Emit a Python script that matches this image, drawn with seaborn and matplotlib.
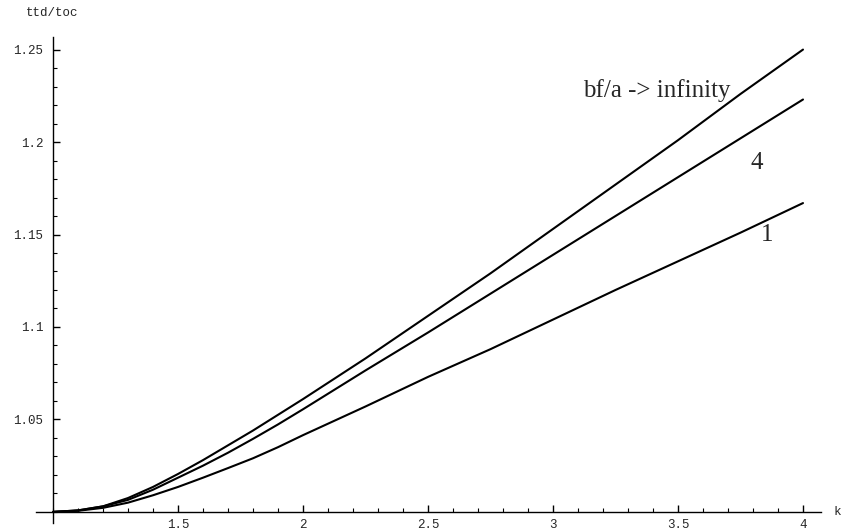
import numpy as np
import pandas as pd
import matplotlib
matplotlib.use("Agg")
import matplotlib.pyplot as plt
from matplotlib.ticker import MultipleLocator, FixedLocator
import seaborn as sns

# ratio k and the computed ttd/toc for three values of bf/a
k = [1.0, 1.1, 1.2, 1.3, 1.4, 1.5, 1.6, 1.7, 1.8, 1.9, 2.0,
     2.25, 2.5, 2.75, 3.0, 3.25, 3.5, 3.75, 4.0]
ratio_inf = [1.0, 1.0008, 1.003, 1.0075, 1.0135, 1.0205, 1.028, 1.036, 1.044, 1.0525, 1.061,
             1.083, 1.106, 1.129, 1.153, 1.177, 1.201, 1.226, 1.25]
ratio_4 = [1.0, 1.0008, 1.003, 1.0065, 1.012, 1.0185, 1.025, 1.032, 1.0395, 1.0473, 1.0555,
           1.0765, 1.097, 1.118, 1.139, 1.160, 1.181, 1.202, 1.223]
ratio_1 = [1.0, 1.0006, 1.0022, 1.005, 1.009, 1.0135, 1.0185, 1.0237, 1.029, 1.035, 1.0415,
           1.057, 1.073, 1.088, 1.104, 1.120, 1.1355, 1.151, 1.167]

x_ticks = [1.5, 2, 2.5, 3, 3.5, 4]
x_tick_labels = ["1.5", "2", "2.5", "3", "3.5", "4"]
y_ticks = [1.05, 1.1, 1.15, 1.2, 1.25]
y_tick_labels = ["1.05", "1.1", "1.15", "1.2", "1.25"]

df = pd.concat([
    pd.DataFrame({"k": k, "ratio": ratio_inf, "bf/a": "inf"}),
    pd.DataFrame({"k": k, "ratio": ratio_4, "bf/a": "4"}),
    pd.DataFrame({"k": k, "ratio": ratio_1, "bf/a": "1"}),
])

sns.set_style("white")
plt.rcParams["font.family"] = ["DejaVu Sans"]

fig = plt.figure(figsize=(8.45, 5.31), dpi=100)
W, H = 845, 531
ax = fig.add_axes([36 / W, 8 / H, (821 - 36) / W, (523 - 37) / H])

sns.lineplot(data=df, x="k", y="ratio", hue="bf/a",
             palette=["black", "black", "black"], linewidth=1.5,
             legend=False, ax=ax, sort=False)

ax.set_xlim(0.932, 4.072)
ax.set_ylim(0.994, 1.2568)

# axes crossing at (1, 1)
for side in ("top", "right"):
    ax.spines[side].set_visible(False)
ax.spines["left"].set_position(("data", 1.0))
ax.spines["bottom"].set_position(("data", 1.0))
for side in ("left", "bottom"):
    ax.spines[side].set_color("black")
    ax.spines[side].set_linewidth(1.0)

mono = "Liberation Mono"
ax.xaxis.set_major_locator(FixedLocator(x_ticks))
ax.set_xticklabels(x_tick_labels, fontfamily=mono, fontsize=9)
ax.yaxis.set_major_locator(FixedLocator(y_ticks))
ax.set_yticklabels(y_tick_labels, fontfamily=mono, fontsize=9)
ax.xaxis.set_minor_locator(MultipleLocator(0.1))
ax.yaxis.set_minor_locator(MultipleLocator(0.01))
ax.tick_params(which="both", bottom=True, left=True, top=False, right=False)
ax.tick_params(axis="x", which="major", direction="in", length=5, width=1.0,
               color="black", pad=5)
ax.tick_params(axis="y", which="major", direction="in", length=5, width=1.0,
               color="black", pad=7)
ax.tick_params(which="minor", direction="in", length=3, width=0.8, color="black")
ax.set_xlabel("")
ax.set_ylabel("")
ax.grid(False)

# axis names at the ends of the axes
fig.text(26 / W, 1 - 13 / H, "ttd/toc", fontfamily=mono, fontsize=9,
         ha="left", va="center")
fig.text(834 / W, 1 - 512 / H, "k", fontfamily=mono, fontsize=9,
         ha="left", va="center")

serif = "Liberation Serif"
ax.text(3.12, 1.2243, "bf/a -> infinity", fontfamily=serif, fontsize=18,
        ha="left", va="baseline")
ax.text(3.816, 1.1854, "4", fontfamily=serif, fontsize=18, ha="center", va="baseline")
ax.text(3.856, 1.1465, "1", fontfamily=serif, fontsize=18, ha="center", va="baseline")

fig.savefig("out.png", dpi=100, facecolor="white")
